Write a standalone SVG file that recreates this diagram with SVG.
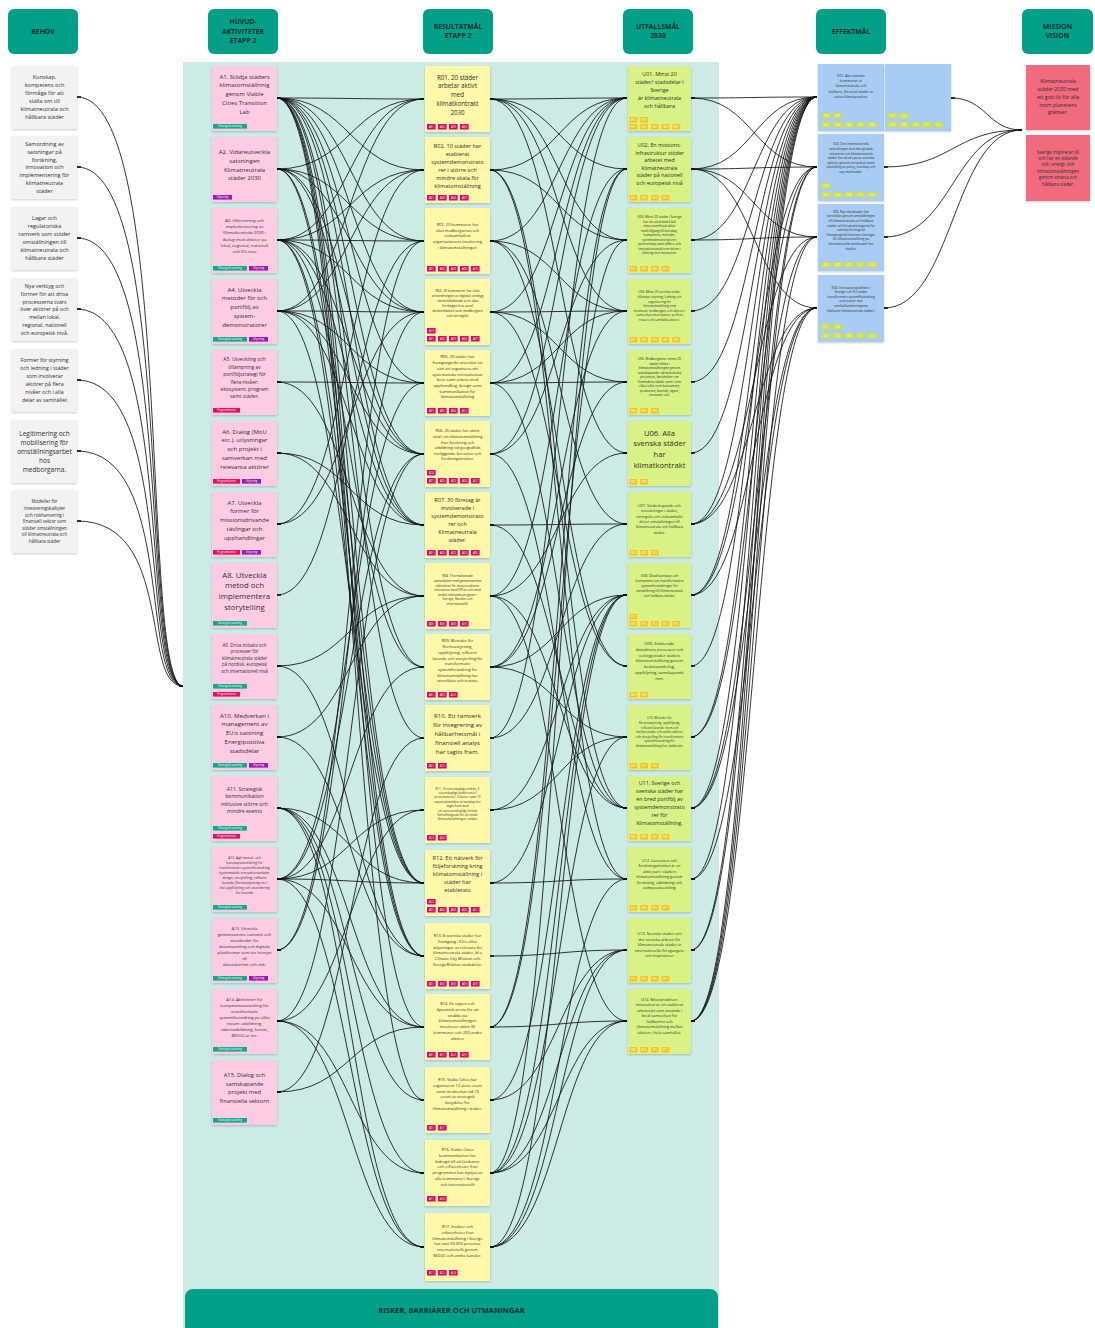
<svg xmlns="http://www.w3.org/2000/svg" width="1095" height="1328" viewBox="0 0 1095 1328">
<defs>
<filter id="sh" x="-10%" y="-10%" width="120%" height="130%"><feDropShadow dx="0" dy="1" stdDeviation="0.8" flood-color="#000" flood-opacity="0.2"/></filter>
<marker id="ms" markerUnits="userSpaceOnUse" markerWidth="6" markerHeight="4" refX="0" refY="2" orient="auto"><path d="M0 2H4" stroke="#111" stroke-width="1.6"/></marker>
<marker id="me" markerUnits="userSpaceOnUse" markerWidth="6" markerHeight="4" refX="4" refY="2" orient="auto"><path d="M0 2H4" stroke="#111" stroke-width="1.6"/></marker>
</defs>
<style>
.hd{fill:#00A088}
.ht{font-family:'Open Sans','Liberation Sans',sans-serif;font-weight:700;font-size:6.8px;fill:#15302a;text-anchor:middle}
.t{font-family:'Open Sans','Liberation Sans',sans-serif;fill:#2e2e2e;text-anchor:middle}
.bh{fill:#F2F2F2;filter:url(#sh)}
.ac{fill:#FFCCE1;filter:url(#sh)}
.rs{fill:#FFF8A8;filter:url(#sh)}
.uf{fill:#D9F285;filter:url(#sh)}
.ef{fill:#A8CCF3;filter:url(#sh)}
.ms{fill:#F26B7E;filter:url(#sh)}
.tg{font-family:'Open Sans','Liberation Sans',sans-serif;font-size:2.7px;fill:#fff;text-anchor:middle}
.ss{fill:#14A88C}.ul{fill:#9C1AB1}.pk{fill:#E0125F}
.ta{fill:#DA0B63}.tu{fill:#F9C21B}.te{fill:#CFE03F}
#conn path{fill:none;stroke:#111;stroke-width:0.85;marker-start:url(#ms);marker-end:url(#me)}
</style>
<rect width="1095" height="1328" fill="#fff"/>
<rect x="183" y="62" width="536" height="1266" fill="#CBEBE4"/>

<g id="headers">
<rect class="hd" x="8" y="9" width="70" height="45" rx="6"/><text class="ht" x="43" y="33.9">BEHOV</text>
<rect class="hd" x="208" y="9" width="70" height="45" rx="6"/><text class="ht" x="243" y="24.4">HUVUD-<tspan x="243" dy="9.5">AKTIVITETER</tspan><tspan x="243" dy="9.5">ETAPP 2</tspan></text>
<rect class="hd" x="423" y="9" width="70" height="45" rx="6"/><text class="ht" x="458" y="28.9">RESULTATMÅL<tspan x="458" dy="9.5">ETAPP 2</tspan></text>
<rect class="hd" x="623" y="9" width="70" height="45" rx="6"/><text class="ht" x="658" y="28.9">UTFALLSMÅL<tspan x="658" dy="9.5">2030</tspan></text>
<rect class="hd" x="816" y="9" width="70" height="45" rx="6"/><text class="ht" x="851" y="33.9">EFFEKTMÅL</text>
<rect class="hd" x="1022" y="9" width="71" height="45" rx="6"/><text class="ht" x="1057.5" y="28.9">MISSION<tspan x="1057.5" dy="9.5">VISION</tspan></text>
</g>

<g id="conn">
<path d="M77 97C175 97 140 686 183 686"/>
<path d="M77 167C175 167 140 686 183 686"/>
<path d="M77 238C175 238 140 686 183 686"/>
<path d="M77 309C175 309 140 686 183 686"/>
<path d="M77 380C175 380 140 686 183 686"/>
<path d="M77 451C175 451 140 686 183 686"/>
<path d="M77 521C175 521 140 686 183 686"/>

<path d="M277 98C350 98 350 99 424 99"/>
<path d="M277 169C350 169 350 99 424 99"/>
<path d="M277 240C350 240 350 99 424 99"/>
<path d="M277 311C350 311 350 99 424 99"/>
<path d="M277 98C350 98 350 170 424 170"/>
<path d="M277 240C350 240 350 170 424 170"/>
<path d="M277 311C350 311 350 170 424 170"/>
<path d="M277 524C350 524 350 170 424 170"/>
<path d="M277 98C350 98 350 241 424 241"/>
<path d="M277 169C350 169 350 241 424 241"/>
<path d="M277 240C350 240 350 241 424 241"/>
<path d="M277 595C350 595 350 241 424 241"/>
<path d="M277 950C350 950 350 241 424 241"/>
<path d="M277 950C350 950 350 312 424 312"/>
<path d="M277 98C350 98 350 312 424 312"/>
<path d="M277 169C350 169 350 312 424 312"/>
<path d="M277 240C350 240 350 312 424 312"/>
<path d="M277 311C350 311 350 312 424 312"/>
<path d="M277 524C350 524 350 312 424 312"/>
<path d="M277 98C350 98 350 383 424 383"/>
<path d="M277 382C350 382 350 383 424 383"/>
<path d="M277 311C350 311 350 383 424 383"/>
<path d="M277 879C350 879 350 383 424 383"/>
<path d="M277 1021C350 1021 350 454 424 454"/>
<path d="M277 98C350 98 350 454 424 454"/>
<path d="M277 169C350 169 350 454 424 454"/>
<path d="M277 240C350 240 350 454 424 454"/>
<path d="M277 311C350 311 350 454 424 454"/>
<path d="M277 879C350 879 350 454 424 454"/>
<path d="M277 98C350 98 350 525 424 525"/>
<path d="M277 169C350 169 350 525 424 525"/>
<path d="M277 240C350 240 350 525 424 525"/>
<path d="M277 311C350 311 350 525 424 525"/>
<path d="M277 453C350 453 350 525 424 525"/>
<path d="M277 382C350 382 350 596 424 596"/>
<path d="M277 453C350 453 350 596 424 596"/>
<path d="M277 666C350 666 350 596 424 596"/>
<path d="M277 737C350 737 350 596 424 596"/>
<path d="M277 98C350 98 350 667 424 667"/>
<path d="M277 240C350 240 350 667 424 667"/>
<path d="M277 879C350 879 350 667 424 667"/>
<path d="M277 98C350 98 350 738 424 738"/>
<path d="M277 1092C350 1092 350 738 424 738"/>
<path d="M277 879C350 879 350 810 424 810"/>
<path d="M277 1021C350 1021 350 810 424 810"/>
<path d="M277 879C350 879 350 883 424 883"/>
<path d="M277 98C350 98 350 883 424 883"/>
<path d="M277 169C350 169 350 883 424 883"/>
<path d="M277 240C350 240 350 883 424 883"/>
<path d="M277 311C350 311 350 883 424 883"/>
<path d="M277 808C350 808 350 883 424 883"/>
<path d="M277 98C350 98 350 956 424 956"/>
<path d="M277 169C350 169 350 956 424 956"/>
<path d="M277 240C350 240 350 956 424 956"/>
<path d="M277 666C350 666 350 956 424 956"/>
<path d="M277 737C350 737 350 956 424 956"/>
<path d="M277 98C350 98 350 1027 424 1027"/>
<path d="M277 808C350 808 350 1027 424 1027"/>
<path d="M277 879C350 879 350 1027 424 1027"/>
<path d="M277 1092C350 1092 350 1027 424 1027"/>
<path d="M277 98C350 98 350 1100 424 1100"/>
<path d="M277 808C350 808 350 1100 424 1100"/>
<path d="M277 808C350 808 350 1173 424 1173"/>
<path d="M277 1021C350 1021 350 1173 424 1173"/>
<path d="M277 808C350 808 350 1247 424 1247"/>
<path d="M277 879C350 879 350 1247 424 1247"/>
<path d="M277 1021C350 1021 350 1247 424 1247"/>

<path d="M490 454C559 454 559 98 627 98"/>
<path d="M490 738C559 738 559 98 627 98"/>
<path d="M490 99C559 99 559 98 627 98"/>
<path d="M490 170C559 170 559 98 627 98"/>
<path d="M490 241C559 241 559 98 627 98"/>
<path d="M490 312C559 312 559 98 627 98"/>
<path d="M490 383C559 383 559 98 627 98"/>
<path d="M490 99C559 99 559 169 627 169"/>
<path d="M490 596C559 596 559 169 627 169"/>
<path d="M490 1027C559 1027 559 169 627 169"/>
<path d="M490 1173C559 1173 559 169 627 169"/>
<path d="M490 99C559 99 559 240 627 240"/>
<path d="M490 170C559 170 559 240 627 240"/>
<path d="M490 454C559 454 559 240 627 240"/>
<path d="M490 1027C559 1027 559 240 627 240"/>
<path d="M490 99C559 99 559 311 627 311"/>
<path d="M490 241C559 241 559 311 627 311"/>
<path d="M490 312C559 312 559 311 627 311"/>
<path d="M490 383C559 383 559 311 627 311"/>
<path d="M490 667C559 667 559 311 627 311"/>
<path d="M490 312C559 312 559 382 627 382"/>
<path d="M490 383C559 383 559 382 627 382"/>
<path d="M490 667C559 667 559 382 627 382"/>
<path d="M490 99C559 99 559 453 627 453"/>
<path d="M490 596C559 596 559 453 627 453"/>
<path d="M490 241C559 241 559 524 627 524"/>
<path d="M490 525C559 525 559 524 627 524"/>
<path d="M490 738C559 738 559 524 627 524"/>
<path d="M490 1247C559 1247 559 595 627 595"/>
<path d="M490 667C559 667 559 595 627 595"/>
<path d="M490 810C559 810 559 595 627 595"/>
<path d="M490 883C559 883 559 595 627 595"/>
<path d="M490 1100C559 1100 559 595 627 595"/>
<path d="M490 1173C559 1173 559 595 627 595"/>
<path d="M490 241C559 241 559 666 627 666"/>
<path d="M490 312C559 312 559 666 627 666"/>
<path d="M490 667C559 667 559 737 627 737"/>
<path d="M490 810C559 810 559 737 627 737"/>
<path d="M490 1173C559 1173 559 737 627 737"/>
<path d="M490 170C559 170 559 808 627 808"/>
<path d="M490 383C559 383 559 808 627 808"/>
<path d="M490 525C559 525 559 808 627 808"/>
<path d="M490 596C559 596 559 808 627 808"/>
<path d="M490 170C559 170 559 879 627 879"/>
<path d="M490 454C559 454 559 879 627 879"/>
<path d="M490 883C559 883 559 879 627 879"/>
<path d="M490 1247C559 1247 559 879 627 879"/>
<path d="M490 956C559 956 559 950 627 950"/>
<path d="M490 1100C559 1100 559 950 627 950"/>
<path d="M490 1173C559 1173 559 950 627 950"/>
<path d="M490 1247C559 1247 559 950 627 950"/>
<path d="M490 596C559 596 559 1021 627 1021"/>
<path d="M490 1027C559 1027 559 1021 627 1021"/>
<path d="M490 1173C559 1173 559 1021 627 1021"/>
<path d="M490 1247C559 1247 559 1021 627 1021"/>

<path d="M691 98C754 98 754 97 817 97"/>
<path d="M691 169C754 169 754 97 817 97"/>
<path d="M691 240C754 240 754 97 817 97"/>
<path d="M691 311C754 311 754 97 817 97"/>
<path d="M691 382C754 382 754 97 817 97"/>
<path d="M691 453C754 453 754 97 817 97"/>
<path d="M691 524C754 524 754 97 817 97"/>
<path d="M691 595C754 595 754 97 817 97"/>
<path d="M691 666C754 666 754 97 817 97"/>
<path d="M691 737C754 737 754 97 817 97"/>
<path d="M691 808C754 808 754 97 817 97"/>
<path d="M691 879C754 879 754 97 817 97"/>
<path d="M691 950C754 950 754 97 817 97"/>
<path d="M691 1021C754 1021 754 97 817 97"/>
<path d="M691 98C754 98 754 167 817 167"/>
<path d="M691 169C754 169 754 167 817 167"/>
<path d="M691 595C754 595 754 167 817 167"/>
<path d="M691 737C754 737 754 167 817 167"/>
<path d="M691 950C754 950 754 167 817 167"/>
<path d="M691 1021C754 1021 754 167 817 167"/>
<path d="M691 169C754 169 754 237 817 237"/>
<path d="M691 240C754 240 754 237 817 237"/>
<path d="M691 524C754 524 754 237 817 237"/>
<path d="M691 808C754 808 754 237 817 237"/>
<path d="M691 1021C754 1021 754 237 817 237"/>
<path d="M691 169C754 169 754 308 817 308"/>
<path d="M691 524C754 524 754 308 817 308"/>
<path d="M691 595C754 595 754 308 817 308"/>
<path d="M691 808C754 808 754 308 817 308"/>
<path d="M691 879C754 879 754 308 817 308"/>
<path d="M691 1021C754 1021 754 308 817 308"/>

<path d="M951 98C987 98 987 130 1022 130"/>
<path d="M884 167C953 167 953 130 1022 130"/>
<path d="M884 237C953 237 953 130 1022 130"/>
<path d="M884 308C953 308 953 130 1022 130"/>
</g>

<g id="B1"><rect class="bh" x="12" y="66" width="65" height="63"/><text class="t" font-size="5.5" x="44.5" y="79.4">Kunskap,<tspan x="44.5" dy="8">kompetens och</tspan><tspan x="44.5" dy="8">förmåga för att</tspan><tspan x="44.5" dy="8">ställa om till</tspan><tspan x="44.5" dy="8">klimatneutrala och</tspan><tspan x="44.5" dy="8">hållbara städer</tspan></text></g>
<g id="B2"><rect class="bh" x="12" y="136" width="65" height="63"/><text class="t" font-size="5.5" x="44.5" y="146">Samordning av<tspan x="44.5" dy="7.8">satsningar på</tspan><tspan x="44.5" dy="7.8">forskning,</tspan><tspan x="44.5" dy="7.8">innovation och</tspan><tspan x="44.5" dy="7.8">implementering för</tspan><tspan x="44.5" dy="7.8">klimatneutrala</tspan><tspan x="44.5" dy="7.8">städer</tspan></text></g>
<g id="B3"><rect class="bh" x="12" y="207" width="65" height="63"/><text class="t" font-size="5.5" x="44.5" y="220.4">Lagar och<tspan x="44.5" dy="8">regulatoriska</tspan><tspan x="44.5" dy="8">ramverk som stöder</tspan><tspan x="44.5" dy="8">omställningen till</tspan><tspan x="44.5" dy="8">klimatneutrala och</tspan><tspan x="44.5" dy="8">hållbara städer</tspan></text></g>
<g id="B4"><rect class="bh" x="12" y="278" width="65" height="63"/><text class="t" font-size="5.3" x="44.5" y="288">Nya verktyg och<tspan x="44.5" dy="7.8">former för att driva</tspan><tspan x="44.5" dy="7.8">processerna tvärs</tspan><tspan x="44.5" dy="7.8">över aktörer på och</tspan><tspan x="44.5" dy="7.8">mellan lokal,</tspan><tspan x="44.5" dy="7.8">regional, nationell</tspan><tspan x="44.5" dy="7.8">och europeisk nivå.</tspan></text></g>
<g id="B5"><rect class="bh" x="12" y="349" width="65" height="63"/><text class="t" font-size="5.3" x="44.5" y="362.4">Former för styrning<tspan x="44.5" dy="8">och ledning i städer</tspan><tspan x="44.5" dy="8">som involverar</tspan><tspan x="44.5" dy="8">aktörer på flera</tspan><tspan x="44.5" dy="8">nivåer och i alla</tspan><tspan x="44.5" dy="8">delar av samhället</tspan></text></g>
<g id="B6"><rect class="bh" x="12" y="420" width="65" height="63"/><text class="t" font-size="6.5" x="44.5" y="435.8">Legitimering och<tspan x="44.5" dy="9">mobilisering för</tspan><tspan x="44.5" dy="9">omställningsarbet</tspan><tspan x="44.5" dy="9">hos</tspan><tspan x="44.5" dy="9">medborgarna.</tspan></text></g>
<g id="B7"><rect class="bh" x="12" y="490" width="65" height="63"/><text class="t" font-size="4.5" x="44.5" y="503.3">Modeller för<tspan x="44.5" dy="6.6">investeringskalkyler</tspan><tspan x="44.5" dy="6.6">och riskhantering i</tspan><tspan x="44.5" dy="6.6">finansiell sektor som</tspan><tspan x="44.5" dy="6.6">stöder omställningen</tspan><tspan x="44.5" dy="6.6">till klimatneutrala och</tspan><tspan x="44.5" dy="6.6">hållbara städer</tspan></text></g>

<g id="A1"><rect class="ac" x="212" y="66" width="65" height="65"/><text class="t" font-size="6" x="244.5" y="78.6">A1. Stödja städers<tspan x="244.5" dy="8.8">klimatomställnnig</tspan><tspan x="244.5" dy="8.8">genom Viable</tspan><tspan x="244.5" dy="8.8">Cities Transition</tspan><tspan x="244.5" dy="8.8">Lab</tspan></text><rect class="ss" x="213" y="124" width="34" height="4.6"/><text class="tg" x="230" y="127.3">Strategisk satsning</text></g>
<g id="A2"><rect class="ac" x="212" y="137" width="65" height="65"/><text class="t" font-size="6" x="244.5" y="153.9">A2. Vidareutveckla<tspan x="244.5" dy="8.8">satsningen</tspan><tspan x="244.5" dy="8.8">Klimatneutrala</tspan><tspan x="244.5" dy="8.8">städer 2030</tspan></text><rect class="ul" x="213" y="195" width="19" height="4.6"/><text class="tg" x="222.5" y="198.3">Utlysning</text></g>
<g id="A3"><rect class="ac" x="212" y="208" width="65" height="65"/><text class="t" font-size="4.3" x="244.5" y="222">A3. Utformning och<tspan x="244.5" dy="6.2">implementering av</tspan><tspan x="244.5" dy="6.2">Klimatkontrakt 2030 i</tspan><tspan x="244.5" dy="6.2">dialog med aktörer på</tspan><tspan x="244.5" dy="6.2">lokal, regional, nationell</tspan><tspan x="244.5" dy="6.2">och EU-nivå</tspan></text><rect class="ss" x="213" y="266" width="34" height="4.6"/><text class="tg" x="230" y="269.3">Strategisk satsning</text><rect class="ul" x="249" y="266" width="19" height="4.6"/><text class="tg" x="258.5" y="269.3">Utlysning</text></g>
<g id="A4"><rect class="ac" x="212" y="279" width="65" height="65"/><text class="t" font-size="6" x="244.5" y="291.5">A4. Utveckla<tspan x="244.5" dy="8.8">metoder för och</tspan><tspan x="244.5" dy="8.8">portfölj av</tspan><tspan x="244.5" dy="8.8">system-</tspan><tspan x="244.5" dy="8.8">demonstratorer</tspan></text><rect class="ss" x="213" y="337" width="34" height="4.6"/><text class="tg" x="230" y="340.3">Strategisk satsning</text><rect class="ul" x="249" y="337" width="19" height="4.6"/><text class="tg" x="258.5" y="340.3">Utlysning</text></g>
<g id="A5"><rect class="ac" x="212" y="350" width="65" height="65"/><text class="t" font-size="5" x="244.5" y="361.3">A5. Utveckling och<tspan x="244.5" dy="7.4">tillämpning av</tspan><tspan x="244.5" dy="7.4">portföljstrategi för</tspan><tspan x="244.5" dy="7.4">flera nivåer:</tspan><tspan x="244.5" dy="7.4">ekosystem, program</tspan><tspan x="244.5" dy="7.4">samt städer.</tspan></text><rect class="pk" x="213" y="408" width="27" height="4.6"/><text class="tg" x="226.5" y="411.3">Programkontor</text></g>
<g id="A6"><rect class="ac" x="212" y="421" width="65" height="65"/><text class="t" font-size="6" x="244.5" y="433.5">A6. Dialog (MoU<tspan x="244.5" dy="8.8">etc.), utlysningar</tspan><tspan x="244.5" dy="8.8">och projekt i</tspan><tspan x="244.5" dy="8.8">samverkan med</tspan><tspan x="244.5" dy="8.8">relevanta aktörer</tspan></text><rect class="pk" x="213" y="479" width="27" height="4.6"/><text class="tg" x="226.5" y="482.3">Programkontor</text><rect class="ul" x="242" y="479" width="19" height="4.6"/><text class="tg" x="251.5" y="482.3">Utlysning</text></g>
<g id="A7"><rect class="ac" x="212" y="492" width="65" height="65"/><text class="t" font-size="6" x="244.5" y="504.5">A7. Utveckla<tspan x="244.5" dy="8.8">former för</tspan><tspan x="244.5" dy="8.8">missionsdrivande</tspan><tspan x="244.5" dy="8.8">tävlingar och</tspan><tspan x="244.5" dy="8.8">upphandlingar</tspan></text><rect class="pk" x="213" y="550" width="27" height="4.6"/><text class="tg" x="226.5" y="553.3">Programkontor</text><rect class="ul" x="242" y="550" width="19" height="4.6"/><text class="tg" x="251.5" y="553.3">Utlysning</text></g>
<g id="A8"><rect class="ac" x="212" y="563" width="65" height="65"/><text class="t" font-size="7.8" x="244.5" y="577.5">A8. Utveckla<tspan x="244.5" dy="10.8">metod och</tspan><tspan x="244.5" dy="10.8">implementera</tspan><tspan x="244.5" dy="10.8">storytelling</tspan></text><rect class="ss" x="213" y="621" width="34" height="4.6"/><text class="tg" x="230" y="624.3">Strategisk satsning</text></g>
<g id="A9"><rect class="ac" x="212" y="634" width="65" height="65"/><text class="t" font-size="4.5" x="244.5" y="646.6">A9. Driva  initiativ och<tspan x="244.5" dy="6.5">processer för</tspan><tspan x="244.5" dy="6.5">klimatneutrala städer</tspan><tspan x="244.5" dy="6.5">på nordisk, europeisk</tspan><tspan x="244.5" dy="6.5">och internationell nivå</tspan></text><rect class="ss" x="213" y="684" width="34" height="4.6"/><text class="tg" x="230" y="687.3">Strategisk satsning</text><rect class="pk" x="213" y="692" width="27" height="4.6"/><text class="tg" x="226.5" y="695.3">Programkontor</text></g>
<g id="A10"><rect class="ac" x="212" y="705" width="65" height="65"/><text class="t" font-size="6.1" x="244.5" y="717.6">A10. Medverkan i<tspan x="244.5" dy="8.8">management av</tspan><tspan x="244.5" dy="8.8">EU:s satsning</tspan><tspan x="244.5" dy="8.8">Energipositiva</tspan><tspan x="244.5" dy="8.8">stadsdelar</tspan></text><rect class="ss" x="213" y="763" width="34" height="4.6"/><text class="tg" x="230" y="766.3">Strategisk satsning</text><rect class="ul" x="249" y="763" width="19" height="4.6"/><text class="tg" x="258.5" y="766.3">Utlysning</text></g>
<g id="A11"><rect class="ac" x="212" y="776" width="65" height="65"/><text class="t" font-size="5.2" x="244.5" y="790.7">A11. Strategisk<tspan x="244.5" dy="7.4">kommunikation</tspan><tspan x="244.5" dy="7.4">inklusive större och</tspan><tspan x="244.5" dy="7.4">mindre events</tspan></text><rect class="ss" x="213" y="826" width="34" height="4.6"/><text class="tg" x="230" y="829.3">Strategisk satsning</text><rect class="pk" x="213" y="834" width="27" height="4.6"/><text class="tg" x="226.5" y="837.3">Programkontor</text></g>
<g id="A12"><rect class="ac" x="212" y="847" width="65" height="65"/><text class="t" font-size="3.4" x="244.5" y="858.7">A12. Agil metod- och<tspan x="244.5" dy="5">kunskapsutveckling för</tspan><tspan x="244.5" dy="5">transformativ systemförändring</tspan><tspan x="244.5" dy="5">(systematiskt innovationsarbete,</tspan><tspan x="244.5" dy="5">design, storytelling, reflexivt</tspan><tspan x="244.5" dy="5">lärande, flernivåstyrning etc.)</tspan><tspan x="244.5" dy="5">inkl uppföljning och utvärdering</tspan><tspan x="244.5" dy="5">för lärande</tspan></text><rect class="ss" x="213" y="905" width="34" height="4.6"/><text class="tg" x="230" y="908.3">Strategisk satsning</text></g>
<g id="A13"><rect class="ac" x="212" y="918" width="65" height="65"/><text class="t" font-size="4.2" x="244.5" y="929.5">A13. Utveckla<tspan x="244.5" dy="6">gemensamma ramverk och</tspan><tspan x="244.5" dy="6">standarder för</tspan><tspan x="244.5" dy="6">datainsamling och digitala</tspan><tspan x="244.5" dy="6">plattformar som tar hänsyn</tspan><tspan x="244.5" dy="6">till</tspan><tspan x="244.5" dy="6">datasäkerhet och etik.</tspan></text><rect class="ss" x="213" y="976" width="34" height="4.6"/><text class="tg" x="230" y="979.3">Strategisk satsning</text><rect class="ul" x="249" y="976" width="19" height="4.6"/><text class="tg" x="258.5" y="979.3">Utlysning</text></g>
<g id="A14"><rect class="ac" x="212" y="989" width="65" height="65"/><text class="t" font-size="4.2" x="244.5" y="1000.5">A14. Aktiviteter för<tspan x="244.5" dy="6">kompetensutveckling för</tspan><tspan x="244.5" dy="6">transformativ</tspan><tspan x="244.5" dy="6">systemförändring på olika</tspan><tspan x="244.5" dy="6">nivåer: utbildning,</tspan><tspan x="244.5" dy="6">vidareutbildning, kurser,</tspan><tspan x="244.5" dy="6">MOOC:ar etc.</tspan></text><rect class="ss" x="213" y="1047" width="34" height="4.6"/><text class="tg" x="230" y="1050.3">Strategisk satsning</text></g>
<g id="A15"><rect class="ac" x="212" y="1060" width="65" height="65"/><text class="t" font-size="5.8" x="244.5" y="1076.8">A15. Dialog och<tspan x="244.5" dy="8.8">samskapande</tspan><tspan x="244.5" dy="8.8">projekt med</tspan><tspan x="244.5" dy="8.8">finansiella sektorn</tspan></text><rect class="ss" x="213" y="1118" width="34" height="4.6"/><text class="tg" x="230" y="1121.3">Strategisk satsning</text></g>

<g id="R01"><rect class="rs" x="425" y="66" width="65" height="66"/><text class="t" font-size="6.2" x="457.5" y="79.6">R01. 20  städer<tspan x="457.5" dy="8.8">arbetar aktivt</tspan><tspan x="457.5" dy="8.8">med</tspan><tspan x="457.5" dy="8.8">klimatkontrakt</tspan><tspan x="457.5" dy="8.8">2030</tspan></text>
<rect class="ta" x="427" y="124" width="8.6" height="5.5"/><text class="tg" x="431.3" y="127.8">A01</text><rect class="ta" x="438" y="124" width="8.6" height="5.5"/><text class="tg" x="442.3" y="127.8">A02</text><rect class="ta" x="449" y="124" width="8.6" height="5.5"/><text class="tg" x="453.3" y="127.8">A03</text><rect class="ta" x="460" y="124" width="8.6" height="5.5"/><text class="tg" x="464.3" y="127.8">A04</text></g>
<g id="R02"><rect class="rs" x="425" y="137" width="65" height="66"/><text class="t" font-size="5.6" x="457.5" y="148">R02. 10 städer har<tspan x="457.5" dy="8">etablerat</tspan><tspan x="457.5" dy="8">systemdemonstrato</tspan><tspan x="457.5" dy="8">rer i större och</tspan><tspan x="457.5" dy="8">mindre skala för</tspan><tspan x="457.5" dy="8">klimatomställning</tspan></text>
<rect class="ta" x="427" y="195" width="8.6" height="5.5"/><text class="tg" x="431.3" y="198.8">A01</text><rect class="ta" x="438" y="195" width="8.6" height="5.5"/><text class="tg" x="442.3" y="198.8">A03</text><rect class="ta" x="449" y="195" width="8.6" height="5.5"/><text class="tg" x="453.3" y="198.8">A04</text><rect class="ta" x="460" y="195" width="8.6" height="5.5"/><text class="tg" x="464.3" y="198.8">A07</text></g>
<g id="R03"><rect class="rs" x="425" y="208" width="65" height="66"/><text class="t" font-size="3.9" x="457.5" y="226.2">R03. 20 kommuner  har<tspan x="457.5" dy="5.6">ökat medborgarnas och</tspan><tspan x="457.5" dy="5.6">civilsamhällets</tspan><tspan x="457.5" dy="5.6">organisationers involvering</tspan><tspan x="457.5" dy="5.6">i klimatomställningen</tspan></text>
<rect class="ta" x="427" y="266" width="8.6" height="5.5"/><text class="tg" x="431.3" y="269.8">A01</text><rect class="ta" x="438" y="266" width="8.6" height="5.5"/><text class="tg" x="442.3" y="269.8">A02</text><rect class="ta" x="449" y="266" width="8.6" height="5.5"/><text class="tg" x="453.3" y="269.8">A03</text><rect class="ta" x="460" y="266" width="8.6" height="5.5"/><text class="tg" x="464.3" y="269.8">A08</text><rect class="ta" x="471" y="266" width="8.6" height="5.5"/><text class="tg" x="475.3" y="269.8">A13</text></g>
<g id="R04"><rect class="rs" x="425" y="279" width="65" height="66"/><text class="t" font-size="3.4" x="457.5" y="291.7">R04. 20 kommuner har ökat<tspan x="457.5" dy="5">användningen av digitala verktyg</tspan><tspan x="457.5" dy="5">i beslutsfattande som ökar</tspan><tspan x="457.5" dy="5">förmågan hos såväl</tspan><tspan x="457.5" dy="5">beslutsfattare som medborgare</tspan><tspan x="457.5" dy="5">och näringsliv</tspan></text>
<rect class="ta" x="427" y="328" width="8.6" height="5.5"/><text class="tg" x="431.3" y="331.8">A13</text>
<rect class="ta" x="427" y="336" width="8.6" height="5.5"/><text class="tg" x="431.3" y="339.8">A01</text><rect class="ta" x="438" y="336" width="8.6" height="5.5"/><text class="tg" x="442.3" y="339.8">A02</text><rect class="ta" x="449" y="336" width="8.6" height="5.5"/><text class="tg" x="453.3" y="339.8">A03</text><rect class="ta" x="460" y="336" width="8.6" height="5.5"/><text class="tg" x="464.3" y="339.8">A04</text><rect class="ta" x="471" y="336" width="8.6" height="5.5"/><text class="tg" x="475.3" y="339.8">A07</text></g>
<g id="R05"><rect class="rs" x="425" y="350" width="65" height="66"/><text class="t" font-size="4" x="457.5" y="358.4">R05. 20 städer har<tspan x="457.5" dy="5.7">framgångsrikt utvecklat sin</tspan><tspan x="457.5" dy="5.7">sätt att organisera sitt</tspan><tspan x="457.5" dy="5.7">systematiska innovationsar</tspan><tspan x="457.5" dy="5.7">bete samt arbeta med</tspan><tspan x="457.5" dy="5.7">upphandling, design samt</tspan><tspan x="457.5" dy="5.7">kommunikation för</tspan><tspan x="457.5" dy="5.7">klimatomställning</tspan></text>
<rect class="ta" x="427" y="408" width="8.6" height="5.5"/><text class="tg" x="431.3" y="411.8">A01</text><rect class="ta" x="438" y="408" width="8.6" height="5.5"/><text class="tg" x="442.3" y="411.8">A05</text><rect class="ta" x="449" y="408" width="8.6" height="5.5"/><text class="tg" x="453.3" y="411.8">A04</text><rect class="ta" x="460" y="408" width="8.6" height="5.5"/><text class="tg" x="464.3" y="411.8">A12</text></g>
<g id="R06"><rect class="rs" x="425" y="421" width="65" height="66"/><text class="t" font-size="3.9" x="457.5" y="432.4">R06. 20 städer har aktivt<tspan x="457.5" dy="5.6">stöd i sin klimatomställning</tspan><tspan x="457.5" dy="5.6">från forskning och</tspan><tspan x="457.5" dy="5.6">utbildning vid geografiskt</tspan><tspan x="457.5" dy="5.6">närliggande lärosäten och</tspan><tspan x="457.5" dy="5.6">forskningsinstitut.</tspan></text>
<rect class="ta" x="427" y="470" width="8.6" height="5.5"/><text class="tg" x="431.3" y="473.8">A14</text>
<rect class="ta" x="427" y="478" width="8.6" height="5.5"/><text class="tg" x="431.3" y="481.8">A01</text><rect class="ta" x="438" y="478" width="8.6" height="5.5"/><text class="tg" x="442.3" y="481.8">A02</text><rect class="ta" x="449" y="478" width="8.6" height="5.5"/><text class="tg" x="453.3" y="481.8">A03</text><rect class="ta" x="460" y="478" width="8.6" height="5.5"/><text class="tg" x="464.3" y="481.8">A04</text><rect class="ta" x="471" y="478" width="8.6" height="5.5"/><text class="tg" x="475.3" y="481.8">A12</text></g>
<g id="R07"><rect class="rs" x="425" y="492" width="65" height="66"/><text class="t" font-size="5.6" x="457.5" y="502">R07. 30 företag är<tspan x="457.5" dy="8">involverade i</tspan><tspan x="457.5" dy="8">systemdemonstrato</tspan><tspan x="457.5" dy="8">rer och</tspan><tspan x="457.5" dy="8">Klimatneutrala</tspan><tspan x="457.5" dy="8">städer.</tspan></text>
<rect class="ta" x="427" y="550" width="8.6" height="5.5"/><text class="tg" x="431.3" y="553.8">A01</text><rect class="ta" x="438" y="550" width="8.6" height="5.5"/><text class="tg" x="442.3" y="553.8">A02</text><rect class="ta" x="449" y="550" width="8.6" height="5.5"/><text class="tg" x="453.3" y="553.8">A03</text><rect class="ta" x="460" y="550" width="8.6" height="5.5"/><text class="tg" x="464.3" y="553.8">A04</text><rect class="ta" x="471" y="550" width="8.6" height="5.5"/><text class="tg" x="475.3" y="553.8">A06</text></g>
<g id="R08"><rect class="rs" x="425" y="563" width="65" height="66"/><text class="t" font-size="3.2" x="457.5" y="577.3">R08. 5 formaliserade<tspan x="457.5" dy="4.6">samarbeten med gemensamma</tspan><tspan x="457.5" dy="4.6">aktiviteter för missionsdriven</tspan><tspan x="457.5" dy="4.6">innovation med EIP:ar och med</tspan><tspan x="457.5" dy="4.6">andra relevanta program i</tspan><tspan x="457.5" dy="4.6">Sverige, Norden och</tspan><tspan x="457.5" dy="4.6">internationellt.</tspan></text>
<rect class="ta" x="427" y="621" width="8.6" height="5.5"/><text class="tg" x="431.3" y="624.8">A05</text><rect class="ta" x="438" y="621" width="8.6" height="5.5"/><text class="tg" x="442.3" y="624.8">A06</text><rect class="ta" x="449" y="621" width="8.6" height="5.5"/><text class="tg" x="453.3" y="624.8">A09</text><rect class="ta" x="460" y="621" width="8.6" height="5.5"/><text class="tg" x="464.3" y="624.8">A10</text></g>
<g id="R09"><rect class="rs" x="425" y="634" width="65" height="66"/><text class="t" font-size="4" x="457.5" y="642.4">R09. Metoder för<tspan x="457.5" dy="5.7">flernivåstyrning,</tspan><tspan x="457.5" dy="5.7">uppföljning, reflexivt</tspan><tspan x="457.5" dy="5.7">lärande och storytelling för</tspan><tspan x="457.5" dy="5.7">transformativ</tspan><tspan x="457.5" dy="5.7">systemförändring för</tspan><tspan x="457.5" dy="5.7">klimatomställning har</tspan><tspan x="457.5" dy="5.7">utvecklats och testats.</tspan></text>
<rect class="ta" x="427" y="692" width="8.6" height="5.5"/><text class="tg" x="431.3" y="695.8">A01</text><rect class="ta" x="438" y="692" width="8.6" height="5.5"/><text class="tg" x="442.3" y="695.8">A03</text><rect class="ta" x="449" y="692" width="8.6" height="5.5"/><text class="tg" x="453.3" y="695.8">A12</text></g>
<g id="R10"><rect class="rs" x="425" y="705" width="65" height="66"/><text class="t" font-size="6.1" x="457.5" y="718">R10. Ett ramverk<tspan x="457.5" dy="9">för integrering av</tspan><tspan x="457.5" dy="9">hållbarhetsmål i</tspan><tspan x="457.5" dy="9">finansiell analys</tspan><tspan x="457.5" dy="9">har tagits fram.</tspan></text>
<rect class="ta" x="427" y="763" width="8.6" height="5.5"/><text class="tg" x="431.3" y="766.8">A01</text><rect class="ta" x="438" y="763" width="8.6" height="5.5"/><text class="tg" x="442.3" y="766.8">A15</text></g>
<g id="R11"><rect class="rs" x="425" y="777" width="65" height="66"/><text class="t" font-size="3" x="457.5" y="789.6">R11. 10 vetenskapliga artiklar, 6<tspan x="457.5" dy="4.4">vetenskapliga konferenser/</tspan><tspan x="457.5" dy="4.4">presentationer, 5 kurser samt 10</tspan><tspan x="457.5" dy="4.4">expertutlåtanden av kunskap har</tspan><tspan x="457.5" dy="4.4">tagits fram med</tspan><tspan x="457.5" dy="4.4">ett tvärvetenskapligt, kritiskt</tspan><tspan x="457.5" dy="4.4">förhållningssätt för att stötta</tspan><tspan x="457.5" dy="4.4">klimatomställningen i städer</tspan></text>
<rect class="ta" x="427" y="835" width="8.6" height="5.5"/><text class="tg" x="431.3" y="838.8">A12</text><rect class="ta" x="438" y="835" width="8.6" height="5.5"/><text class="tg" x="442.3" y="838.8">A14</text></g>
<g id="R12"><rect class="rs" x="425" y="850" width="65" height="66"/><text class="t" font-size="5.6" x="457.5" y="860">R12. Ett nätverk för<tspan x="457.5" dy="8">följeforskning kring</tspan><tspan x="457.5" dy="8">klimatomställning i</tspan><tspan x="457.5" dy="8">städer har</tspan><tspan x="457.5" dy="8">etablerats</tspan></text>
<rect class="ta" x="427" y="899" width="8.6" height="5.5"/><text class="tg" x="431.3" y="902.8">A12</text>
<rect class="ta" x="427" y="907" width="8.6" height="5.5"/><text class="tg" x="431.3" y="910.8">A01</text><rect class="ta" x="438" y="907" width="8.6" height="5.5"/><text class="tg" x="442.3" y="910.8">A02</text><rect class="ta" x="449" y="907" width="8.6" height="5.5"/><text class="tg" x="453.3" y="910.8">A03</text><rect class="ta" x="460" y="907" width="8.6" height="5.5"/><text class="tg" x="464.3" y="910.8">A04</text><rect class="ta" x="471" y="907" width="8.6" height="5.5"/><text class="tg" x="475.3" y="910.8">A11</text></g>
<g id="R13"><rect class="rs" x="425" y="923" width="65" height="66"/><text class="t" font-size="4" x="457.5" y="937.2">R13. 8  svenska städer har<tspan x="457.5" dy="5.7">framgång i EU:s olika</tspan><tspan x="457.5" dy="5.7">utlysningar av relevans för</tspan><tspan x="457.5" dy="5.7">klimatneutrala städer, bl a</tspan><tspan x="457.5" dy="5.7">Climate City Mission  och</tspan><tspan x="457.5" dy="5.7">Energieffektiva stadsdelar.</tspan></text>
<rect class="ta" x="427" y="981" width="8.6" height="5.5"/><text class="tg" x="431.3" y="984.8">A01</text><rect class="ta" x="438" y="981" width="8.6" height="5.5"/><text class="tg" x="442.3" y="984.8">A02</text><rect class="ta" x="449" y="981" width="8.6" height="5.5"/><text class="tg" x="453.3" y="984.8">A03</text><rect class="ta" x="460" y="981" width="8.6" height="5.5"/><text class="tg" x="464.3" y="984.8">A09</text><rect class="ta" x="471" y="981" width="8.6" height="5.5"/><text class="tg" x="475.3" y="984.8">A10</text></g>
<g id="R14"><rect class="rs" x="425" y="994" width="65" height="66"/><text class="t" font-size="4" x="457.5" y="1005.3">R14. En öppen och<tspan x="457.5" dy="5.7">dynamisk arena för att</tspan><tspan x="457.5" dy="5.7">snabba på</tspan><tspan x="457.5" dy="5.7">klimatomställningen</tspan><tspan x="457.5" dy="5.7">involverar aktivt 30</tspan><tspan x="457.5" dy="5.7">kommuner och 200 andra</tspan><tspan x="457.5" dy="5.7">aktörer</tspan></text>
<rect class="ta" x="427" y="1052" width="8.6" height="5.5"/><text class="tg" x="431.3" y="1055.8">A01</text><rect class="ta" x="438" y="1052" width="8.6" height="5.5"/><text class="tg" x="442.3" y="1055.8">A11</text><rect class="ta" x="449" y="1052" width="8.6" height="5.5"/><text class="tg" x="453.3" y="1055.8">A12</text><rect class="ta" x="460" y="1052" width="8.6" height="5.5"/><text class="tg" x="464.3" y="1055.8">A15</text></g>
<g id="R15"><rect class="rs" x="425" y="1067" width="65" height="66"/><text class="t" font-size="4" x="457.5" y="1081.2">R15. Viable Cities har<tspan x="457.5" dy="5.7">organiserat 12  stora event</tspan><tspan x="457.5" dy="5.7">samt medverkat vid 10</tspan><tspan x="457.5" dy="5.7">event av strategisk</tspan><tspan x="457.5" dy="5.7">betydelse för</tspan><tspan x="457.5" dy="5.7">klimatomställning i städer.</tspan></text>
<rect class="ta" x="427" y="1125" width="8.6" height="5.5"/><text class="tg" x="431.3" y="1128.8">A01</text><rect class="ta" x="438" y="1125" width="8.6" height="5.5"/><text class="tg" x="442.3" y="1128.8">A11</text></g>
<g id="R16"><rect class="rs" x="425" y="1140" width="65" height="66"/><text class="t" font-size="4" x="457.5" y="1151.3">R16. Viable Cities<tspan x="457.5" dy="5.7">kommunikation har</tspan><tspan x="457.5" dy="5.7">bidragit till att lärdomar</tspan><tspan x="457.5" dy="5.7">och erfarenheter från</tspan><tspan x="457.5" dy="5.7">programmet kan nyttjas av</tspan><tspan x="457.5" dy="5.7">alla kommuner i Sverige</tspan><tspan x="457.5" dy="5.7">och internationellt</tspan></text>
<rect class="ta" x="427" y="1196" width="8.6" height="5.5"/><text class="tg" x="431.3" y="1199.8">A11</text><rect class="ta" x="438" y="1196" width="8.6" height="5.5"/><text class="tg" x="442.3" y="1199.8">A14</text></g>
<g id="R17"><rect class="rs" x="425" y="1213" width="65" height="68"/><text class="t" font-size="4" x="457.5" y="1228.2">R17. Insikter och<tspan x="457.5" dy="5.7">erfarenheter från</tspan><tspan x="457.5" dy="5.7">klimatomställning i Sverige</tspan><tspan x="457.5" dy="5.7">har nått 50 000 personer</tspan><tspan x="457.5" dy="5.7">internationellt genom</tspan><tspan x="457.5" dy="5.7">MOOC och andra kanaler.</tspan></text>
<rect class="ta" x="427" y="1270" width="8.6" height="5.5"/><text class="tg" x="431.3" y="1273.8">A11</text><rect class="ta" x="438" y="1270" width="8.6" height="5.5"/><text class="tg" x="442.3" y="1273.8">A12</text><rect class="ta" x="449" y="1270" width="8.6" height="5.5"/><text class="tg" x="453.3" y="1273.8">A14</text></g>

<g id="U01"><rect class="uf" x="628" y="66" width="63" height="65"/><text class="t" font-size="5.4" x="659.5" y="76.3">U01. Minst 20<tspan x="659.5" dy="7.8">städer/ stadsdelar i</tspan><tspan x="659.5" dy="7.8">Sverige</tspan><tspan x="659.5" dy="7.8">är klimatneutrala</tspan><tspan x="659.5" dy="7.8">och hållbara</tspan></text>
<rect class="tu" x="629.5" y="117" width="7.8" height="5.5"/><text class="tg" x="633.4" y="120.8">R06</text><rect class="tu" x="640.2" y="117" width="7.8" height="5.5"/><text class="tg" x="644.1" y="120.8">R10</text>
<rect class="tu" x="629.5" y="124" width="7.8" height="5.5"/><text class="tg" x="633.4" y="127.8">R01</text><rect class="tu" x="640.2" y="124" width="7.8" height="5.5"/><text class="tg" x="644.1" y="127.8">R02</text><rect class="tu" x="650.9" y="124" width="7.8" height="5.5"/><text class="tg" x="654.8" y="127.8">R03</text><rect class="tu" x="661.6" y="124" width="7.8" height="5.5"/><text class="tg" x="665.5" y="127.8">R04</text><rect class="tu" x="672.3" y="124" width="7.8" height="5.5"/><text class="tg" x="676.2" y="127.8">R05</text></g>
<g id="U02"><rect class="uf" x="628" y="137" width="63" height="65"/><text class="t" font-size="5.3" x="659.5" y="146.9">U02. En missions-<tspan x="659.5" dy="7.6">infrastruktur stöder</tspan><tspan x="659.5" dy="7.6">arbetet med</tspan><tspan x="659.5" dy="7.6">klimatneutrala</tspan><tspan x="659.5" dy="7.6">städer på nationell</tspan><tspan x="659.5" dy="7.6">och europeisk nivå</tspan></text>
<rect class="tu" x="629.5" y="195" width="7.8" height="5.5"/><text class="tg" x="633.4" y="198.8">R01</text><rect class="tu" x="640.2" y="195" width="7.8" height="5.5"/><text class="tg" x="644.1" y="198.8">R08</text><rect class="tu" x="650.9" y="195" width="7.8" height="5.5"/><text class="tg" x="654.8" y="198.8">R14</text><rect class="tu" x="661.6" y="195" width="7.8" height="5.5"/><text class="tg" x="665.5" y="198.8">R16</text></g>
<g id="U03"><rect class="uf" x="628" y="208" width="63" height="65"/><text class="t" font-size="3.2" x="659.5" y="218.1">U03. Minst 20 städer i Sverige<tspan x="659.5" dy="4.5">har en utvecklad lokal</tspan><tspan x="659.5" dy="4.5">missionsinfrastruktur</tspan><tspan x="659.5" dy="4.5">med tillgång till kunskap,</tspan><tspan x="659.5" dy="4.5">kompetens, metoder,</tspan><tspan x="659.5" dy="4.5">systemdemonstratorer,</tspan><tspan x="659.5" dy="4.5">partnerskap samt affärs- och</tspan><tspan x="659.5" dy="4.5">innovationsstöd som driver i</tspan><tspan x="659.5" dy="4.5">riktning mot missionen.</tspan></text>
<rect class="tu" x="629.5" y="266" width="7.8" height="5.5"/><text class="tg" x="633.4" y="269.8">R01</text><rect class="tu" x="640.2" y="266" width="7.8" height="5.5"/><text class="tg" x="644.1" y="269.8">R02</text><rect class="tu" x="650.9" y="266" width="7.8" height="5.5"/><text class="tg" x="654.8" y="269.8">R06</text><rect class="tu" x="661.6" y="266" width="7.8" height="5.5"/><text class="tg" x="665.5" y="269.8">R14</text></g>
<g id="U04"><rect class="uf" x="628" y="279" width="63" height="65"/><text class="t" font-size="3.1" x="659.5" y="293.3">U04. Minst 20 svenska städer<tspan x="659.5" dy="4.6">tillämpar styrning, ledning och</tspan><tspan x="659.5" dy="4.6">organisering för</tspan><tspan x="659.5" dy="4.6">klimatomställning som</tspan><tspan x="659.5" dy="4.6">involverar medborgare och aktörer i</tspan><tspan x="659.5" dy="4.6">samverkan med aktörer på flera</tspan><tspan x="659.5" dy="4.6">nivåer och samhällssektorer.</tspan></text>
<rect class="tu" x="629.5" y="337" width="7.8" height="5.5"/><text class="tg" x="633.4" y="340.8">R01</text><rect class="tu" x="640.2" y="337" width="7.8" height="5.5"/><text class="tg" x="644.1" y="340.8">R03</text><rect class="tu" x="650.9" y="337" width="7.8" height="5.5"/><text class="tg" x="654.8" y="340.8">R04</text><rect class="tu" x="661.6" y="337" width="7.8" height="5.5"/><text class="tg" x="665.5" y="340.8">R05</text><rect class="tu" x="672.3" y="337" width="7.8" height="5.5"/><text class="tg" x="676.2" y="340.8">R09</text></g>
<g id="U05"><rect class="uf" x="628" y="350" width="63" height="65"/><text class="t" font-size="3.2" x="659.5" y="360.1">U05. Medborgarna i minst 20<tspan x="659.5" dy="4.5">städer deltar i</tspan><tspan x="659.5" dy="4.5">klimatomställningen genom</tspan><tspan x="659.5" dy="4.5">samskapande i demokratiska</tspan><tspan x="659.5" dy="4.5">processer, berättelser om</tspan><tspan x="659.5" dy="4.5">framtidens städer samt i sina</tspan><tspan x="659.5" dy="4.5">olika roller som konsument,</tspan><tspan x="659.5" dy="4.5">producent, boende, ägare,</tspan><tspan x="659.5" dy="4.5">innovatör osv.</tspan></text>
<rect class="tu" x="629.5" y="408" width="7.8" height="5.5"/><text class="tg" x="633.4" y="411.8">R04</text><rect class="tu" x="640.2" y="408" width="7.8" height="5.5"/><text class="tg" x="644.1" y="411.8">R05</text><rect class="tu" x="650.9" y="408" width="7.8" height="5.5"/><text class="tg" x="654.8" y="411.8">R09</text></g>
<g id="U06"><rect class="uf" x="628" y="421" width="63" height="65"/><text class="t" font-size="7.6" x="659.5" y="435.5">U06. Alla<tspan x="659.5" dy="10.8">svenska städer</tspan><tspan x="659.5" dy="10.8">har</tspan><tspan x="659.5" dy="10.8">klimatkontrakt</tspan></text>
<rect class="tu" x="629.5" y="479" width="7.8" height="5.5"/><text class="tg" x="633.4" y="482.8">R01</text><rect class="tu" x="640.2" y="479" width="7.8" height="5.5"/><text class="tg" x="644.1" y="482.8">R08</text></g>
<g id="U07"><rect class="uf" x="628" y="492" width="63" height="65"/><text class="t" font-size="3.7" x="659.5" y="507">U07. Värdeskapande och<tspan x="659.5" dy="5.3">investeringar i städer,</tspan><tspan x="659.5" dy="5.3">näringsliv och civilsamhälle</tspan><tspan x="659.5" dy="5.3">driver omställningen till</tspan><tspan x="659.5" dy="5.3">klimatneutrala och hållbara</tspan><tspan x="659.5" dy="5.3">städer.</tspan></text>
<rect class="tu" x="629.5" y="550" width="7.8" height="5.5"/><text class="tg" x="633.4" y="553.8">R03</text><rect class="tu" x="640.2" y="550" width="7.8" height="5.5"/><text class="tg" x="644.1" y="553.8">R07</text><rect class="tu" x="650.9" y="550" width="7.8" height="5.5"/><text class="tg" x="654.8" y="553.8">R10</text></g>
<g id="U08"><rect class="uf" x="628" y="563" width="63" height="65"/><text class="t" font-size="3.4" x="659.5" y="577.4">U08. Ökad kunskap och<tspan x="659.5" dy="4.9">kompetens om transformativa</tspan><tspan x="659.5" dy="4.9">systemförändringar för</tspan><tspan x="659.5" dy="4.9">omställning till klimatneutrala</tspan><tspan x="659.5" dy="4.9">och hållbara städer.</tspan></text>
<rect class="tu" x="629.5" y="614" width="7.8" height="5.5"/><text class="tg" x="633.4" y="617.8">R17</text>
<rect class="tu" x="629.5" y="621" width="7.8" height="5.5"/><text class="tg" x="633.4" y="624.8">R09</text><rect class="tu" x="640.2" y="621" width="7.8" height="5.5"/><text class="tg" x="644.1" y="624.8">R11</text><rect class="tu" x="650.9" y="621" width="7.8" height="5.5"/><text class="tg" x="654.8" y="624.8">R12</text><rect class="tu" x="661.6" y="621" width="7.8" height="5.5"/><text class="tg" x="665.5" y="624.8">R15</text><rect class="tu" x="672.3" y="621" width="7.8" height="5.5"/><text class="tg" x="676.2" y="624.8">R16</text></g>
<g id="U09"><rect class="uf" x="628" y="634" width="63" height="65"/><text class="t" font-size="4" x="659.5" y="645.3">U09. Etablerade<tspan x="659.5" dy="5.7">datadrivna processer och</tspan><tspan x="659.5" dy="5.7">verktyg  stöder städers</tspan><tspan x="659.5" dy="5.7">klimatomställning genom</tspan><tspan x="659.5" dy="5.7">beslutsunderlag,</tspan><tspan x="659.5" dy="5.7">uppföljning, samskapande</tspan><tspan x="659.5" dy="5.7">mm.</tspan></text>
<rect class="tu" x="629.5" y="692" width="7.8" height="5.5"/><text class="tg" x="633.4" y="695.8">R03</text><rect class="tu" x="640.2" y="692" width="7.8" height="5.5"/><text class="tg" x="644.1" y="695.8">R04</text></g>
<g id="U10"><rect class="uf" x="628" y="705" width="63" height="65"/><text class="t" font-size="3.1" x="659.5" y="719.3">U10. Metoder för<tspan x="659.5" dy="4.6">flernivåstyrning, uppföljning,</tspan><tspan x="659.5" dy="4.6">reflexivt lärande inom och</tspan><tspan x="659.5" dy="4.6">mellan städer och andra aktörer</tspan><tspan x="659.5" dy="4.6">och storytelling för transformativ</tspan><tspan x="659.5" dy="4.6">systemförändring för</tspan><tspan x="659.5" dy="4.6">klimatomställning har etablerats.</tspan></text>
<rect class="tu" x="629.5" y="763" width="7.8" height="5.5"/><text class="tg" x="633.4" y="766.8">R09</text><rect class="tu" x="640.2" y="763" width="7.8" height="5.5"/><text class="tg" x="644.1" y="766.8">R11</text><rect class="tu" x="650.9" y="763" width="7.8" height="5.5"/><text class="tg" x="654.8" y="766.8">R16</text></g>
<g id="U11"><rect class="uf" x="628" y="776" width="63" height="65"/><text class="t" font-size="5.4" x="659.5" y="785.2">U11. Sverige och<tspan x="659.5" dy="7.9">svenska städer har</tspan><tspan x="659.5" dy="7.9">en bred portfölj av</tspan><tspan x="659.5" dy="7.9">systemdemonstrato</tspan><tspan x="659.5" dy="7.9">rer för</tspan><tspan x="659.5" dy="7.9">klimatomställning.</tspan></text>
<rect class="tu" x="629.5" y="834" width="7.8" height="5.5"/><text class="tg" x="633.4" y="837.8">R02</text><rect class="tu" x="640.2" y="834" width="7.8" height="5.5"/><text class="tg" x="644.1" y="837.8">R05</text><rect class="tu" x="650.9" y="834" width="7.8" height="5.5"/><text class="tg" x="654.8" y="837.8">R07</text><rect class="tu" x="661.6" y="834" width="7.8" height="5.5"/><text class="tg" x="665.5" y="837.8">R08</text></g>
<g id="U12"><rect class="uf" x="628" y="847" width="63" height="65"/><text class="t" font-size="3.9" x="659.5" y="861.7">U12. Lärosäten och<tspan x="659.5" dy="5.5">forskningsinstitut är en</tspan><tspan x="659.5" dy="5.5">aktiv part i städers</tspan><tspan x="659.5" dy="5.5">klimatomställning genom</tspan><tspan x="659.5" dy="5.5">forskning, utbildning och</tspan><tspan x="659.5" dy="5.5">campusutveckling.</tspan></text>
<rect class="tu" x="629.5" y="905" width="7.8" height="5.5"/><text class="tg" x="633.4" y="908.8">R02</text><rect class="tu" x="640.2" y="905" width="7.8" height="5.5"/><text class="tg" x="644.1" y="908.8">R06</text><rect class="tu" x="650.9" y="905" width="7.8" height="5.5"/><text class="tg" x="654.8" y="908.8">R12</text><rect class="tu" x="661.6" y="905" width="7.8" height="5.5"/><text class="tg" x="665.5" y="908.8">R17</text></g>
<g id="U13"><rect class="uf" x="628" y="918" width="63" height="65"/><text class="t" font-size="3.9" x="659.5" y="935.4">U13. Svenska städer och<tspan x="659.5" dy="5.5">det svenska arbetet för</tspan><tspan x="659.5" dy="5.5">klimatneutrala städer är</tspan><tspan x="659.5" dy="5.5">internationella föregångare</tspan><tspan x="659.5" dy="5.5">och inspiratörer</tspan></text>
<rect class="tu" x="629.5" y="976" width="7.8" height="5.5"/><text class="tg" x="633.4" y="979.8">R13</text><rect class="tu" x="640.2" y="976" width="7.8" height="5.5"/><text class="tg" x="644.1" y="979.8">R15</text><rect class="tu" x="650.9" y="976" width="7.8" height="5.5"/><text class="tg" x="654.8" y="979.8">R16</text><rect class="tu" x="661.6" y="976" width="7.8" height="5.5"/><text class="tg" x="665.5" y="979.8">R17</text></g>
<g id="U14"><rect class="uf" x="628" y="989" width="63" height="65"/><text class="t" font-size="3.9" x="659.5" y="1000.9">U14. Missionsdriven<tspan x="659.5" dy="5.5">innovation är ett etablerat</tspan><tspan x="659.5" dy="5.5">arbetssätt som används i</tspan><tspan x="659.5" dy="5.5">bred samverkan för</tspan><tspan x="659.5" dy="5.5">hållbarhet och</tspan><tspan x="659.5" dy="5.5">klimatomställning mellan</tspan><tspan x="659.5" dy="5.5">aktörer i hela samhället.</tspan></text>
<rect class="tu" x="629.5" y="1047" width="7.8" height="5.5"/><text class="tg" x="633.4" y="1050.8">R08</text><rect class="tu" x="640.2" y="1047" width="7.8" height="5.5"/><text class="tg" x="644.1" y="1050.8">R14</text><rect class="tu" x="650.9" y="1047" width="7.8" height="5.5"/><text class="tg" x="654.8" y="1050.8">R16</text><rect class="tu" x="661.6" y="1047" width="7.8" height="5.5"/><text class="tg" x="665.5" y="1050.8">R17</text></g>

<g id="E01"><rect class="ef" x="818" y="64" width="66" height="67"/><rect class="ef" x="885" y="64" width="66" height="67"/><text class="t" font-size="3.5" x="851" y="76.6">E01. Alla svenska<tspan x="851" dy="5.3">kommuner är</tspan><tspan x="851" dy="5.3">klimatneutrala och</tspan><tspan x="851" dy="5.3">hållbara. Ett antal städer är</tspan><tspan x="851" dy="5.3">också klimatpositiva.</tspan></text>
<rect class="te" x="821.5" y="113" width="9" height="5.5"/><text class="tg" x="826" y="116.8">U06</text><rect class="te" x="833" y="113" width="9" height="5.5"/><text class="tg" x="837.5" y="116.8">U07</text>
<rect class="te" x="821.5" y="122" width="9" height="5.5"/><text class="tg" x="826" y="125.8">U01</text><rect class="te" x="833" y="122" width="9" height="5.5"/><text class="tg" x="837.5" y="125.8">U02</text><rect class="te" x="844.5" y="122" width="9" height="5.5"/><text class="tg" x="849" y="125.8">U03</text><rect class="te" x="856" y="122" width="9" height="5.5"/><text class="tg" x="860.5" y="125.8">U04</text><rect class="te" x="867.5" y="122" width="9" height="5.5"/><text class="tg" x="872" y="125.8">U05</text>
<rect class="te" x="888" y="113" width="9" height="5.5"/><text class="tg" x="892.5" y="116.8">U13</text><rect class="te" x="899.5" y="113" width="9" height="5.5"/><text class="tg" x="904" y="116.8">U14</text>
<rect class="te" x="888" y="122" width="9" height="5.5"/><text class="tg" x="892.5" y="125.8">U08</text><rect class="te" x="899.5" y="122" width="9" height="5.5"/><text class="tg" x="904" y="125.8">U09</text><rect class="te" x="911" y="122" width="9" height="5.5"/><text class="tg" x="915.5" y="125.8">U10</text><rect class="te" x="922.5" y="122" width="9" height="5.5"/><text class="tg" x="927" y="125.8">U11</text><rect class="te" x="934" y="122" width="9" height="5.5"/><text class="tg" x="938.5" y="125.8">U12</text></g>
<g id="E02"><rect class="ef" x="818" y="134" width="66" height="67"/><text class="t" font-size="3.2" x="851" y="145.3">E02. Den internationella<tspan x="851" dy="4.6">utvecklingen mot den globala</tspan><tspan x="851" dy="4.6">missionen om  klimatneutrala</tspan><tspan x="851" dy="4.6">städer har drivits på av svenska</tspan><tspan x="851" dy="4.6">aktörer genom innovation samt</tspan><tspan x="851" dy="4.6">utveckling av policy, kunskap och</tspan><tspan x="851" dy="4.6">nya marknader.</tspan></text>
<rect class="te" x="821.5" y="183" width="9" height="5.5"/><text class="tg" x="826" y="186.8">U14</text>
<rect class="te" x="821.5" y="192" width="9" height="5.5"/><text class="tg" x="826" y="195.8">U01</text><rect class="te" x="833" y="192" width="9" height="5.5"/><text class="tg" x="837.5" y="195.8">U02</text><rect class="te" x="844.5" y="192" width="9" height="5.5"/><text class="tg" x="849" y="195.8">U08</text><rect class="te" x="856" y="192" width="9" height="5.5"/><text class="tg" x="860.5" y="195.8">U10</text><rect class="te" x="867.5" y="192" width="9" height="5.5"/><text class="tg" x="872" y="195.8">U13</text></g>
<g id="E03"><rect class="ef" x="818" y="204" width="66" height="67"/><text class="t" font-size="3.2" x="851" y="212.7">E03. Nya marknader har<tspan x="851" dy="4.6">utvecklats genom omställningen</tspan><tspan x="851" dy="4.6">till klimatneutrala och hållbara</tspan><tspan x="851" dy="4.6">städer och förutsättningarna för</tspan><tspan x="851" dy="4.6">svenska företag att</tspan><tspan x="851" dy="4.6">framgångsrikt leverera lösningar</tspan><tspan x="851" dy="4.6">för klimatomställning på</tspan><tspan x="851" dy="4.6">internationella marknader har</tspan><tspan x="851" dy="4.6">stärkts.</tspan></text>
<rect class="te" x="821.5" y="262" width="9" height="5.5"/><text class="tg" x="826" y="265.8">U02</text><rect class="te" x="833" y="262" width="9" height="5.5"/><text class="tg" x="837.5" y="265.8">U03</text><rect class="te" x="844.5" y="262" width="9" height="5.5"/><text class="tg" x="849" y="265.8">U07</text><rect class="te" x="856" y="262" width="9" height="5.5"/><text class="tg" x="860.5" y="265.8">U11</text><rect class="te" x="867.5" y="262" width="9" height="5.5"/><text class="tg" x="872" y="265.8">U14</text></g>
<g id="E04"><rect class="ef" x="818" y="275" width="66" height="67"/><text class="t" font-size="3.2" x="851" y="288.6">E04. Innovationspolitiken i<tspan x="851" dy="4.6">Sverige och EU stöder</tspan><tspan x="851" dy="4.6">transformativ systemförändring</tspan><tspan x="851" dy="4.6">som svarar mot</tspan><tspan x="851" dy="4.6">samhällsutmaningarna</tspan><tspan x="851" dy="4.6">(inklusive klimatneutrala städer).</tspan></text>
<rect class="te" x="821.5" y="324" width="9" height="5.5"/><text class="tg" x="826" y="327.8">U11</text><rect class="te" x="833" y="324" width="9" height="5.5"/><text class="tg" x="837.5" y="327.8">U14</text>
<rect class="te" x="821.5" y="333" width="9" height="5.5"/><text class="tg" x="826" y="336.8">U02</text><rect class="te" x="833" y="333" width="9" height="5.5"/><text class="tg" x="837.5" y="336.8">U07</text><rect class="te" x="844.5" y="333" width="9" height="5.5"/><text class="tg" x="849" y="336.8">U08</text><rect class="te" x="856" y="333" width="9" height="5.5"/><text class="tg" x="860.5" y="336.8">U11</text><rect class="te" x="867.5" y="333" width="9" height="5.5"/><text class="tg" x="872" y="336.8">U12</text></g>

<g id="M1"><rect class="ms" x="1026" y="65" width="64" height="65"/><text class="t" font-size="5.2" x="1058" y="83.2">Klimatneutrala<tspan x="1058" dy="7.8">städer 2030 med</tspan><tspan x="1058" dy="7.8">ett gott liv för alla</tspan><tspan x="1058" dy="7.8">inom planetens</tspan><tspan x="1058" dy="7.8">gränser.</tspan></text></g>
<g id="M2"><rect class="ms" x="1026" y="135" width="64" height="66"/><text class="t" font-size="4.4" x="1058" y="153.5">Sverige inspirerar till<tspan x="1058" dy="6.4">och har en ledande</tspan><tspan x="1058" dy="6.4">roll i energi- och</tspan><tspan x="1058" dy="6.4">klimatomställningen</tspan><tspan x="1058" dy="6.4">genom smarta och</tspan><tspan x="1058" dy="6.4">hållbara städer.</tspan></text></g>

<g id="risker"><rect x="185" y="1289" width="533" height="50" rx="8" fill="#00A088"/><text class="ht" x="451.5" y="1312.5" style="font-size:7.6px">RISKER, BARRIÄRER OCH UTMANINGAR</text></g>
</svg>
